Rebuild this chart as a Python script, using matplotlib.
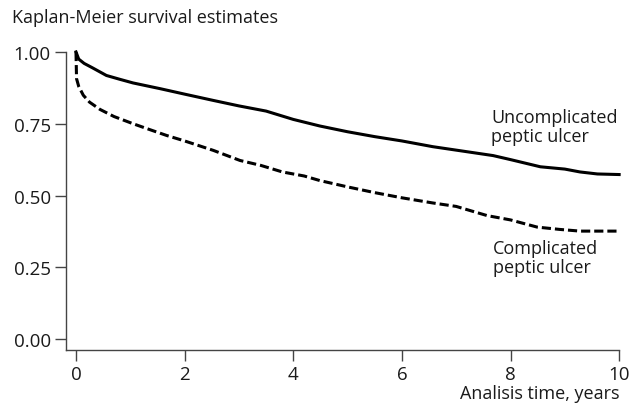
import numpy as np
from matplotlib import pyplot as plt

plt.rcParams['font.family'] = ['Open Sans', 'DejaVu Sans']

# Kaplan-Meier estimates
t_uncomp = [0, 0.05, 0.15, 0.3, 0.56, 0.8, 1.05, 1.55, 2.0, 2.53, 3.0, 3.5, 4.0, 4.49,
            5.0, 5.5, 6.0, 6.57, 7.0, 7.68, 8.0, 8.55, 9.0, 9.28, 9.6, 10.0]
s_uncomp = [1.0, 0.975, 0.96, 0.945, 0.918, 0.905, 0.892, 0.872, 0.853, 0.831, 0.812, 0.794,
            0.765, 0.742, 0.722, 0.705, 0.69, 0.67, 0.658, 0.639, 0.625, 0.60, 0.592, 0.582,
            0.575, 0.573]
t_comp = [0, 0.01, 0.05, 0.135, 0.25, 0.44, 0.7, 1.05, 1.35, 1.67, 2.0, 2.53, 3.02, 3.4,
          3.8, 4.2, 4.49, 5.0, 5.5, 6.0, 6.57, 7.0, 7.57, 8.0, 8.49, 8.9, 9.28, 10.0]
s_comp = [1.0, 0.907, 0.88, 0.849, 0.825, 0.80, 0.775, 0.75, 0.73, 0.709, 0.69, 0.657, 0.622,
          0.605, 0.582, 0.568, 0.552, 0.53, 0.51, 0.492, 0.474, 0.462, 0.43, 0.415, 0.39,
          0.382, 0.376, 0.376]

xticks = [0, 2, 4, 6, 8, 10]
yticks = [0.0, 0.25, 0.5, 0.75, 1.0]
ytick_labels = ["0.00", "0.25", "0.50", "0.75", "1.00"]

fig = plt.figure(figsize=(6.41, 4.10), dpi=100)
ax = fig.add_axes([66 / 641, 1 - 351 / 410, (630 - 66) / 641, (351 - 40) / 410])

ax.plot(t_uncomp, s_uncomp, color='black', lw=2.2, clip_on=False)
ax.plot(t_comp, s_comp, color='black', lw=2.2, linestyle=(0, (3.0, 1.3)), clip_on=False)

ax.set_xlim(-0.184, 10.2)
ax.set_ylim(-0.038, 1.045)
ax.spines['top'].set_visible(False)
ax.spines['right'].set_visible(False)
ax.spines['left'].set_bounds(-0.038, 1.0)
ax.spines['bottom'].set_bounds(-0.184, 10.0)
for sp in ['left', 'bottom']:
    ax.spines[sp].set_color('#444444')
    ax.spines[sp].set_linewidth(1.0)

ax.set_xticks(xticks)
ax.set_yticks(yticks)
ax.set_yticklabels(ytick_labels)
ax.tick_params(axis='both', length=8, width=1.0, color='#444444',
               labelsize=13.5, labelcolor='#1a1a1a', pad=3)

fig.text(12 / 641, 1 - 18 / 410, "Kaplan-Meier survival estimates", fontsize=13,
         color='#1a1a1a', ha='left', va='center')
fig.text(620 / 641, 1 - 394 / 410, "Analisis time, years", fontsize=13,
         color='#1a1a1a', ha='right', va='center')
ax.text(7.64, 0.74, "Uncomplicated\npeptic ulcer", fontsize=13, color='#1a1a1a',
        ha='left', va='center', linespacing=1.05)
ax.text(7.68, 0.283, "Complicated\npeptic ulcer", fontsize=13, color='#1a1a1a',
        ha='left', va='center', linespacing=1.05)

plt.savefig("out.png", dpi=100)
